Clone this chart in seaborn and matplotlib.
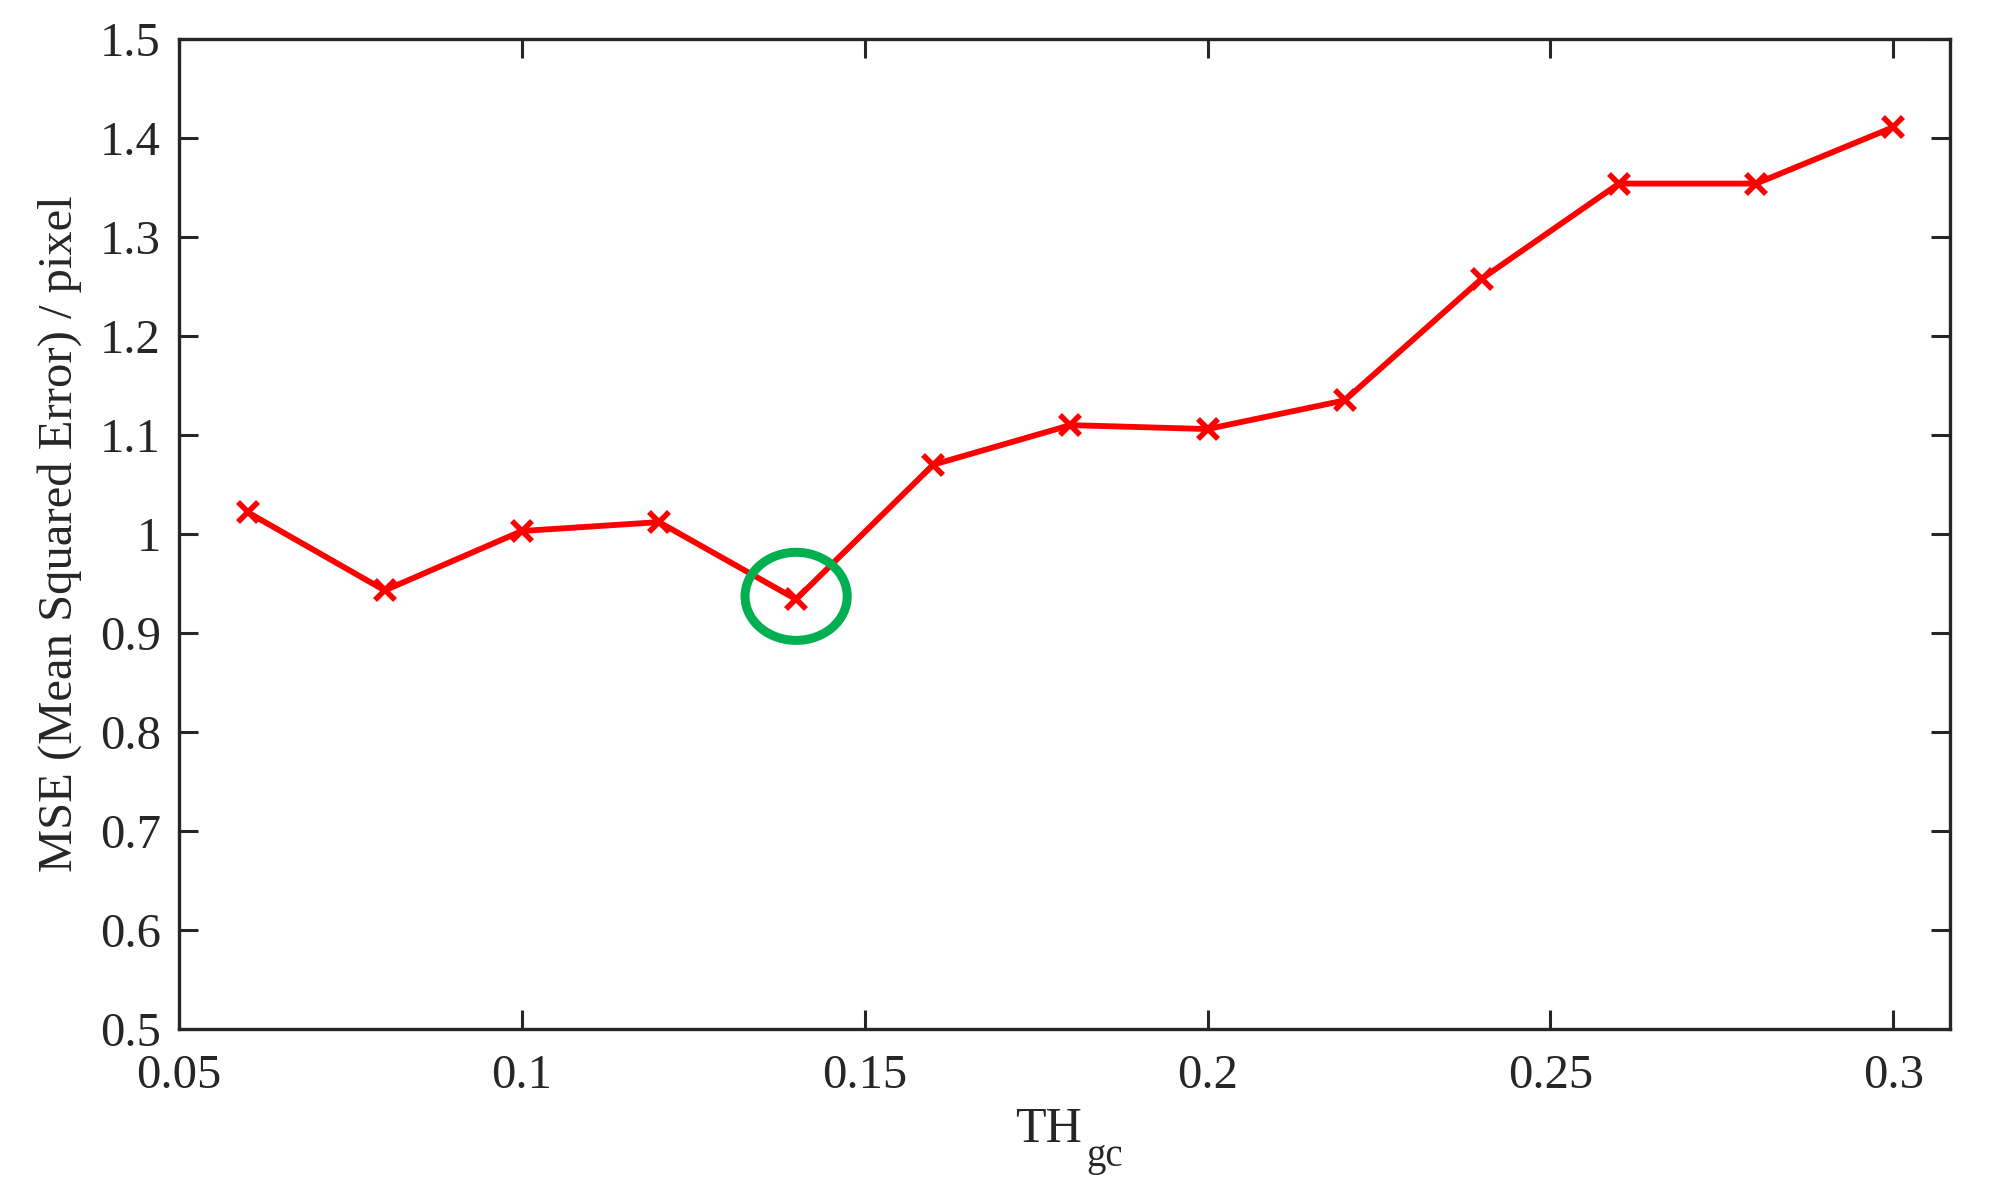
import numpy as np
import pandas as pd
import matplotlib
matplotlib.use("Agg")
import matplotlib.pyplot as plt
from matplotlib.patches import Ellipse
import seaborn as sns

# threshold values and the measured MSE
th_gc = [0.06, 0.08, 0.10, 0.12, 0.14, 0.16, 0.18, 0.20, 0.22, 0.24, 0.26, 0.28, 0.30]
mse = [1.022, 0.943, 1.003, 1.012, 0.934, 1.070, 1.110, 1.106, 1.135, 1.258, 1.354, 1.354, 1.411]

x_ticks = [0.05, 0.1, 0.15, 0.2, 0.25, 0.3]
x_tick_labels = ["0.05", "0.1", "0.15", "0.2", "0.25", "0.3"]
y_ticks = [0.5, 0.6, 0.7, 0.8, 0.9, 1.0, 1.1, 1.2, 1.3, 1.4, 1.5]
y_tick_labels = ["0.5", "0.6", "0.7", "0.8", "0.9", "1", "1.1", "1.2", "1.3", "1.4", "1.5"]

best_th = 0.14
best_mse = 0.937

df = pd.DataFrame({"th": th_gc, "mse": mse})

sns.set_style("ticks")
plt.rcParams["font.family"] = ["Liberation Serif", "DejaVu Serif"]
txt = "#262626"

fig = plt.figure(figsize=(19.91, 11.84), dpi=100)
ax = fig.add_axes([0.0899, 0.131, 0.8896, 0.836])

sns.lineplot(data=df, x="th", y="mse", ax=ax, color="#FF0000", linewidth=4.2,
             marker="x", markersize=14, markeredgewidth=4, markeredgecolor="#FF0000")

# circle round the lowest error
ax.add_patch(Ellipse((best_th, best_mse), width=0.0149, height=0.089,
                     fill=False, edgecolor="#00B050", linewidth=6.5, zorder=5))

ax.set_xlim(0.05, 0.3083)
ax.set_ylim(0.5, 1.5)
ax.set_xticks(x_ticks)
ax.set_xticklabels(x_tick_labels)
ax.set_yticks(y_ticks)
ax.set_yticklabels(y_tick_labels)

ax.tick_params(axis="both", which="both", direction="in", length=14, width=2.2,
               labelsize=35, colors=txt, top=True, right=True)
ax.tick_params(axis="x", pad=18)
ax.tick_params(axis="y", pad=13)
for s in ax.spines.values():
    s.set_visible(True)
    s.set_linewidth(2.4)
    s.set_color(txt)

ax.set_xlabel("TH", fontsize=36, color=txt)
ax.xaxis.set_label_coords(0.4907, -0.078)
ax.annotate("gc", xy=(1, 0), xycoords=ax.xaxis.label, xytext=(3.5, -10),
            textcoords="offset points", fontsize=28, color=txt,
            ha="left", va="baseline")
ax.set_ylabel("MSE (Mean Squared Error) / pixel", fontsize=35, color=txt, labelpad=13)

fig.savefig("out.png", dpi=100)
